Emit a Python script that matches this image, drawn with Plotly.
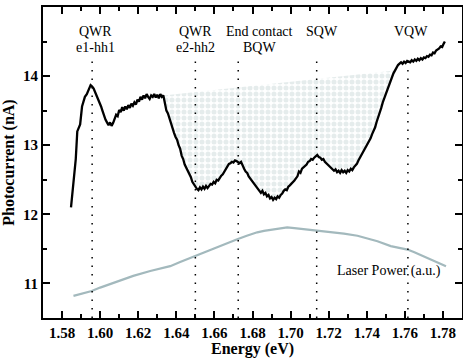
import plotly.graph_objects as go

# photocurrent trace (eV, nA)
energy = [1.5847, 1.5856, 1.5864, 1.5872, 1.5880, 1.5887, 1.5895, 1.5905, 1.5912, 1.5920,
          1.5930, 1.5940, 1.5950, 1.5958, 1.5966, 1.5975, 1.5985, 1.5995, 1.6005, 1.6012,
          1.6020, 1.6028, 1.6036, 1.6044, 1.6052, 1.6060, 1.6068, 1.6076, 1.6084, 1.6092,
          1.6100, 1.6108, 1.6116, 1.6124, 1.6132, 1.6140, 1.6148, 1.6156, 1.6164, 1.6172,
          1.6180, 1.6188, 1.6196, 1.6204, 1.6212, 1.6220, 1.6228, 1.6236, 1.6244, 1.6252,
          1.6260, 1.6268, 1.6276, 1.6284, 1.6292, 1.6300, 1.6308, 1.6316, 1.6324, 1.6332,
          1.6340, 1.6348, 1.6356, 1.6364, 1.6372, 1.6380, 1.6388, 1.6396, 1.6404, 1.6412,
          1.6420, 1.6428, 1.6436, 1.6444, 1.6452, 1.6460, 1.6468, 1.6476, 1.6484, 1.6492,
          1.6500, 1.6508, 1.6516, 1.6524, 1.6532, 1.6540, 1.6548, 1.6556, 1.6564, 1.6572,
          1.6580, 1.6588, 1.6596, 1.6604, 1.6612, 1.6620, 1.6628, 1.6636, 1.6644, 1.6652,
          1.6660, 1.6668, 1.6676, 1.6684, 1.6692, 1.6700, 1.6708, 1.6716, 1.6724, 1.6732,
          1.6740, 1.6748, 1.6756, 1.6764, 1.6772, 1.6780, 1.6788, 1.6796, 1.6804, 1.6812,
          1.6820, 1.6828, 1.6836, 1.6844, 1.6852, 1.6860, 1.6868, 1.6876, 1.6884, 1.6892,
          1.6900, 1.6908, 1.6916, 1.6924, 1.6932, 1.6940, 1.6948, 1.6956, 1.6964, 1.6972,
          1.6980, 1.6988, 1.6996, 1.7004, 1.7012, 1.7020, 1.7028, 1.7036, 1.7044, 1.7052,
          1.7060, 1.7068, 1.7076, 1.7084, 1.7092, 1.7100, 1.7108, 1.7116, 1.7124, 1.7132,
          1.7140, 1.7148, 1.7156, 1.7164, 1.7172, 1.7180, 1.7188, 1.7196, 1.7204, 1.7212,
          1.7220, 1.7228, 1.7236, 1.7244, 1.7252, 1.7260, 1.7268, 1.7276, 1.7284, 1.7292,
          1.7300, 1.7308, 1.7316, 1.7324, 1.7332, 1.7340, 1.7348, 1.7356, 1.7364, 1.7372,
          1.7380, 1.7388, 1.7396, 1.7404, 1.7412, 1.7420, 1.7428, 1.7436, 1.7444, 1.7452,
          1.7460, 1.7468, 1.7476, 1.7484, 1.7492, 1.7500, 1.7508, 1.7516, 1.7524, 1.7532,
          1.7540, 1.7548, 1.7556, 1.7564, 1.7572, 1.7580, 1.7588, 1.7596, 1.7604, 1.7612,
          1.7620, 1.7628, 1.7636, 1.7644, 1.7652, 1.7660, 1.7668, 1.7676, 1.7684, 1.7692,
          1.7700, 1.7708, 1.7716, 1.7724, 1.7732, 1.7740, 1.7748, 1.7756, 1.7764, 1.7772,
          1.7780, 1.7788, 1.7796, 1.7804, 1.7810]
photocurrent = [12.10, 12.35, 12.50, 12.80, 13.20, 13.26, 13.30, 13.56, 13.62, 13.70,
                13.74, 13.82, 13.87, 13.85, 13.82, 13.76, 13.70, 13.62, 13.56, 13.50,
                13.42, 13.37, 13.33, 13.29, 13.33, 13.28, 13.32, 13.38, 13.44, 13.42,
                13.51, 13.48, 13.55, 13.50, 13.56, 13.52, 13.58, 13.54, 13.60, 13.57,
                13.62, 13.59, 13.66, 13.63, 13.70, 13.66, 13.72, 13.68, 13.74, 13.70,
                13.67, 13.72, 13.70, 13.74, 13.69, 13.73, 13.68, 13.74, 13.70, 13.72,
                13.60, 13.50, 13.46, 13.38, 13.30, 13.26, 13.18, 13.12, 13.08, 13.00,
                12.95, 12.85, 12.80, 12.72, 12.68, 12.62, 12.58, 12.54, 12.47, 12.43,
                12.40, 12.37, 12.35, 12.39, 12.36, 12.40, 12.37, 12.41, 12.38, 12.42,
                12.44, 12.43, 12.47, 12.45, 12.50, 12.49, 12.53, 12.56, 12.58, 12.62,
                12.64, 12.70, 12.73, 12.74, 12.76, 12.75, 12.78, 12.77, 12.76, 12.74,
                12.76, 12.70, 12.66, 12.62, 12.60, 12.55, 12.52, 12.49, 12.45, 12.42,
                12.39, 12.36, 12.33, 12.31, 12.34, 12.29, 12.31, 12.26, 12.28, 12.23,
                12.25, 12.21, 12.24, 12.22, 12.26, 12.24, 12.28, 12.30, 12.34, 12.36,
                12.35, 12.40, 12.42, 12.44, 12.47, 12.49, 12.52, 12.55, 12.62, 12.60,
                12.66, 12.68, 12.70, 12.72, 12.76, 12.77, 12.80, 12.79, 12.82, 12.84,
                12.86, 12.83, 12.82, 12.79, 12.80, 12.76, 12.74, 12.72, 12.70, 12.68,
                12.66, 12.63, 12.65, 12.61, 12.63, 12.60, 12.64, 12.61, 12.63, 12.60,
                12.64, 12.62, 12.66, 12.64, 12.68, 12.70, 12.73, 12.78, 12.82, 12.86,
                12.88, 12.92, 12.96, 13.00, 13.05, 13.10, 13.16, 13.21, 13.26, 13.34,
                13.40, 13.47, 13.54, 13.62, 13.68, 13.74, 13.81, 13.87, 13.94, 13.99,
                14.04, 14.08, 14.13, 14.16, 14.18, 14.20, 14.18, 14.21, 14.19, 14.22,
                14.21, 14.20, 14.23, 14.21, 14.24, 14.22, 14.25, 14.23, 14.26, 14.24,
                14.27, 14.26, 14.29, 14.28, 14.31, 14.30, 14.34, 14.33, 14.37, 14.38,
                14.40, 14.43, 14.42, 14.47, 14.50]

# laser power (arbitrary units, drawn on the same axis)
laser_energy = [1.586, 1.590, 1.5956, 1.600, 1.6053, 1.610, 1.6174, 1.6263, 1.6316, 1.6368,
                1.642, 1.650, 1.656, 1.6614, 1.667, 1.672, 1.677, 1.6825, 1.686, 1.690,
                1.694, 1.6982, 1.702, 1.7053, 1.710, 1.714, 1.7216, 1.728, 1.7351, 1.740,
                1.7456, 1.7526, 1.757, 1.7614, 1.765, 1.770, 1.776, 1.7816]
laser_power = [10.82, 10.85, 10.89, 10.94, 10.99, 11.04, 11.11, 11.18, 11.22, 11.25,
               11.31, 11.40, 11.46, 11.52, 11.58, 11.64, 11.69, 11.74, 11.76, 11.78,
               11.80, 11.81, 11.80, 11.79, 11.78, 11.76, 11.74, 11.72, 11.69, 11.65,
               11.61, 11.54, 11.51, 11.49, 11.45, 11.39, 11.32, 11.25]

# transitions marked with dotted lines
trans_energy = [1.5958, 1.6500, 1.6725, 1.7137, 1.7616]
trans_top = ["QWR", "QWR", "End contact", "SQW", "VQW"]
trans_bottom = ["e1-hh1", "e2-hh2", "BQW", "", ""]

# shaded area: between the curve and a straight line
shade_start = (1.6332, 13.72)
shade_end = (1.7548, 14.08)

serif = "Liberation Serif"

sx = [e for e in energy if shade_start[0] <= e <= shade_end[0]]
sy = [p for e, p in zip(energy, photocurrent) if shade_start[0] <= e <= shade_end[0]]
sx = sx + [shade_end[0], shade_start[0]]
sy = sy + [shade_end[1], shade_start[1]]

fig = go.Figure()
fig.add_trace(go.Scatter(x=sx, y=sy, mode="none", fill="toself",
                         fillcolor="white",
                         fillpattern=dict(shape=".", size=6, solidity=0.55,
                                          fgcolor="#cbd9d9", bgcolor="white")))
fig.add_trace(go.Scatter(x=laser_energy, y=laser_power, mode="lines",
                         line=dict(color="#a3b9bd", width=2.2)))
fig.add_trace(go.Scatter(x=energy, y=photocurrent, mode="lines",
                         line=dict(color="black", width=2.3)))

# labels sit a little right of their lines in the original
label_shift = [0.0017, 0.0, 0.011, 0.003, 0.0016]
for e, top, bot, dx in zip(trans_energy, trans_top, trans_bottom, label_shift):
  fig.add_shape(type="line", x0=e, x1=e, y0=10.5, y1=14.28,
                line=dict(color="black", width=1.5, dash="1.5px,7px"))
  fig.add_annotation(x=e + dx, y=14.64, text=top, showarrow=False,
                     font=dict(family=serif, size=14, color="black"))
  if bot:
    fig.add_annotation(x=e + dx, y=14.42, text=bot, showarrow=False,
                       font=dict(family=serif, size=14, color="black"))

fig.add_annotation(x=1.7516, y=11.18, text="Laser Power (a.u.)", showarrow=False,
                   font=dict(family=serif, size=14, color="black"))

axis_style = dict(showline=True, linewidth=2, linecolor="black", mirror="ticks",
                  ticks="inside", ticklen=7, tickwidth=1.5, tickcolor="black",
                  showgrid=False, zeroline=False, automargin=False,
                  tickfont=dict(family=serif, size=15, color="black", weight="bold"),
                  title_font=dict(family=serif, size=16, color="black", weight="bold"))

fig.update_xaxes(range=[1.57, 1.79], dtick=0.02, tick0=1.58, tickformat=".2f",
                 minor=dict(dtick=0.01, ticks="inside", ticklen=4, tickcolor="black"),
                 title_text="Energy (eV)", **axis_style)
fig.update_yaxes(range=[10.5, 15], dtick=1, tick0=11,
                 minor=dict(dtick=0.5, ticks="inside", ticklen=4, tickcolor="black"),
                 title_text="Photocurrent (nA)", **axis_style)

fig.update_layout(width=463, height=358, showlegend=False,
                  margin=dict(l=43, r=1, t=7, b=40),
                  plot_bgcolor="white", paper_bgcolor="white")

fig.write_html("out.html", config={"displayModeBar": False},
               post_script="document.body.style.margin='0';")
